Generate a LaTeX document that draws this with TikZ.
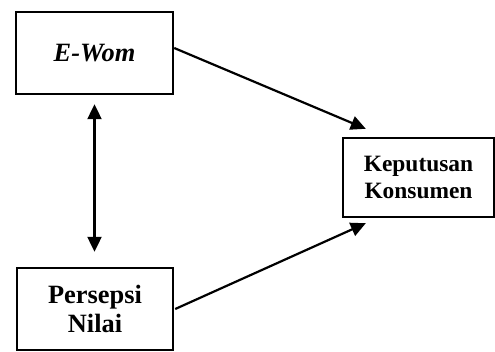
\documentclass[tikz,border=0pt]{standalone}
\usepackage{fontspec}
\setmainfont{Liberation Serif}
\usetikzlibrary{arrows.meta,positioning}

\tikzset{
  varbox/.style={draw,line width=2.4bp,minimum width=157bp,minimum height=82bp,
    align=center,font=\fontsize{26.5}{30}\selectfont\bfseries},
  link/.style={->,line width=2.2bp},
  >={Triangle[length=15bp,width=14bp]}
}

\begin{document}
\begin{tikzpicture}[x=1bp,y=1bp]
  \useasboundingbox (0,0) rectangle (495,351);

  % Variables
  \node[varbox] (ewom) at (94.5,298) {\textit{E-Wom}};
  \node[varbox,minimum width=156bp] (nilai) at (95,42) {Persepsi\\Nilai};
  \node[varbox,minimum width=151bp,minimum height=79bp,
    font=\fontsize{23.5}{27}\selectfont\bfseries] (kep) at (418.5,173.5)
    {Keputusan\\Konsumen};

  % end points of the arrows
  \coordinate (kepin1) at ([xshift=24bp,yshift=8bp]kep.north west);
  \coordinate (kepin2) at ([xshift=24bp,yshift=-5bp]kep.south west);

  % connecting the variables
  \draw[link] ([yshift=5bp]ewom.east) -- (kepin1);
  \draw[link] ([xshift=1bp]nilai.east) -- (kepin2);
  \draw[<->,line width=2.2bp,shorten <=9bp,shorten >=15bp]
    (ewom.south) -- (ewom.south |- nilai.north);

\end{tikzpicture}
\end{document}
